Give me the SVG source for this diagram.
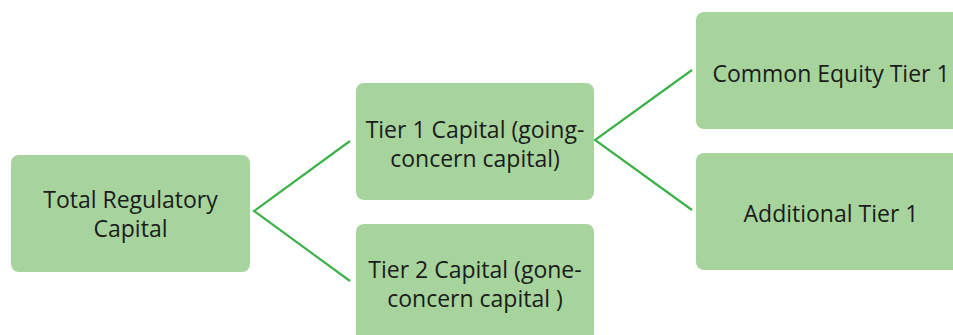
<svg xmlns="http://www.w3.org/2000/svg" width="953" height="335" viewBox="0 0 953 335">
  <style>
    .box { fill: #a6d49c; }
    .lbl { font-family: "Open Sans", "Noto Sans", "Liberation Sans", sans-serif; font-size: 23px; fill: #1b1b1b; text-anchor: middle; }
    .link { stroke: #3cb34a; stroke-width: 2.2; fill: none; }
  </style>
  <rect width="953" height="335" fill="#ffffff"/>
  <g id="connectors">
    <polyline class="link" points="350,141 254,211 350,281"/>
    <polyline class="link" points="692,70 595,140 692,210"/>
  </g>
  <g id="total">
    <rect class="box" x="11" y="155" width="239" height="117" rx="8"/>
    <text class="lbl" x="130.5" y="208">Total Regulatory</text>
    <text class="lbl" x="130.5" y="237">Capital</text>
  </g>
  <g id="tier1">
    <rect class="box" x="356" y="83" width="238" height="117" rx="8"/>
    <text class="lbl" x="475" y="138">Tier 1 Capital (going-</text>
    <text class="lbl" x="475" y="167">concern capital)</text>
  </g>
  <g id="tier2">
    <rect class="box" x="356" y="224" width="238" height="117" rx="8"/>
    <text class="lbl" x="475" y="278">Tier 2 Capital (gone-</text>
    <text class="lbl" x="475" y="307">concern capital )</text>
  </g>
  <g id="cet1">
    <rect class="box" x="696" y="12" width="270" height="117" rx="8"/>
    <text class="lbl" x="831" y="82">Common Equity Tier 1</text>
  </g>
  <g id="at1">
    <rect class="box" x="696" y="153" width="270" height="117" rx="8"/>
    <text class="lbl" x="831" y="222">Additional Tier 1</text>
  </g>
</svg>
